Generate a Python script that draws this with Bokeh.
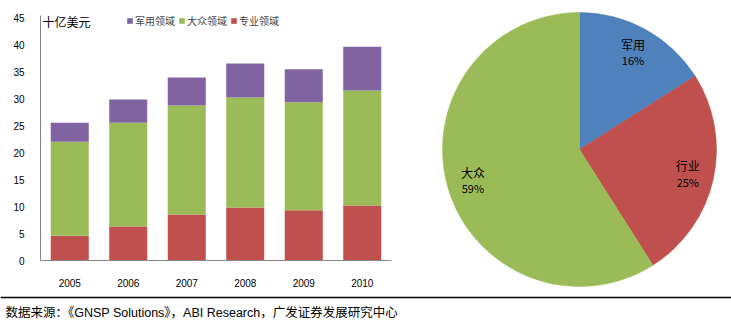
import math
from bokeh.plotting import figure
from bokeh.models import ColumnDataSource, Legend, LegendItem, Label, Span
from bokeh.layouts import column, row
from bokeh.core.properties import value
from bokeh.embed import file_html
from bokeh.resources import INLINE

# ---- data ----
years = ["2005", "2006", "2007", "2008", "2009", "2010"]
pro = [4.6, 6.3, 8.5, 9.8, 9.3, 10.2]        # 专业领域
mass = [17.4, 19.2, 20.2, 20.4, 20.0, 21.3]  # 大众领域
mil = [3.5, 4.3, 5.2, 6.3, 6.1, 8.1]         # 军用领域
series_names = ["专业领域", "大众领域", "军用领域"]
y_ticks = [0, 5, 10, 15, 20, 25, 30, 35, 40, 45]

pie_names = ["军用", "行业", "大众"]
pie_pct = [16, 25, 59]

unit_title = "十亿美元"
source_text = "数据来源：《GNSP Solutions》，ABI Research，广发证券发展研究中心"

C_RED = "#C0504D"
C_GREEN = "#9BBB59"
C_PURPLE = "#8064A2"
C_BLUE = "#4F81BD"
CJK = "Noto Sans CJK SC"
LAT = "Liberation Sans"

H = 290            # height of the top row
PX_PER_UNIT = 5.4  # vertical scale of the bar chart
BASE_PX = 30       # pixels below the zero line
TOP_PX = 17        # pixels above the 45 line

# ---- stacked bar chart ----
src = ColumnDataSource(dict(years=years, pro=pro, mass=mass, mil=mil))
bp = figure(x_range=years,
            y_range=(-BASE_PX / PX_PER_UNIT, 45 + TOP_PX / PX_PER_UNIT),
            width=400, height=H,
            output_backend="svg", toolbar_location=None,
            min_border_left=40, min_border_right=9, min_border_top=0,
            min_border_bottom=0)
r = bp.vbar_stack(["pro", "mass", "mil"], x="years", width=0.65, source=src,
                  color=[C_RED, C_GREEN, C_PURPLE], line_color=None)
bp.x_range.range_padding = 0
bp.xgrid.grid_line_color = None
bp.ygrid.grid_line_color = None
bp.outline_line_color = None
bp.yaxis.ticker = y_ticks
bp.yaxis.bounds = (0, 45.4)
bp.xaxis.fixed_location = 0
for ax in (bp.xaxis, bp.yaxis):
    ax.axis_line_color = "#868686"
    ax.major_tick_line_color = None
    ax.minor_tick_line_color = None
    ax.major_label_text_font = LAT
    ax.major_label_text_font_size = "10px"
    ax.major_label_text_color = "#000000"
bp.yaxis.major_label_standoff = 10
bp.xaxis.major_label_standoff = 12

legend = Legend(items=[LegendItem(label=series_names[2], renderers=[r[2]]),
                       LegendItem(label=series_names[1], renderers=[r[1]]),
                       LegendItem(label=series_names[0], renderers=[r[0]])],
                orientation="horizontal", location=(86, H - 28),
                glyph_width=7, glyph_height=7, label_standoff=2, spacing=3,
                padding=0, margin=0, label_height=14,
                label_text_font=CJK, label_text_font_size="10px",
                background_fill_alpha=0, border_line_color=None)
bp.add_layout(legend, "center")
bp.add_layout(Label(x=2, y=H - 21, x_units="screen", y_units="screen",
                    text=unit_title, text_font=CJK, text_font_size="12px",
                    text_baseline="middle", text_color="#000000"))

# ---- pie chart ----
total = sum(pie_pct)
starts, ends, lx, ly = [], [], [], []
R = 137
acc = 0
for v in pie_pct:
    a0 = math.pi / 2 - 2 * math.pi * acc / total
    acc += v
    a1 = math.pi / 2 - 2 * math.pi * acc / total
    starts.append(a0)
    ends.append(a1)
    mid = (a0 + a1) / 2
    lx.append(0.81 * R * math.cos(mid))
    ly.append(0.81 * R * math.sin(mid))
psrc = ColumnDataSource(dict(start=starts, end=ends, x=lx, y=ly,
                             name=pie_names,
                             pct=[f"{v}%" for v in pie_pct],
                             color=[C_BLUE, C_RED, C_GREEN]))
pp = figure(x_range=(-179, 152), y_range=(-141, 149), width=331, height=H,
            output_backend="svg", toolbar_location=None, min_border=0)
pp.wedge(x=0, y=0, radius=R, start_angle="start", end_angle="end",
         direction="clock", fill_color="color", line_color="color",
         line_width=0.5, source=psrc)
pp.text(x="x", y="y", text="name", source=psrc, text_font=value(CJK),
        text_font_size="12px", text_align="center", text_baseline="middle",
        y_offset=-8, text_color="#000000")
pp.text(x="x", y="y", text="pct", source=psrc, text_font=value(CJK),
        text_font_size="11px", text_align="center", text_baseline="middle",
        y_offset=8, text_color="#000000")
pp.axis.visible = False
pp.grid.visible = False
pp.outline_line_color = None

# ---- footer ----
fp = figure(x_range=(0, 731), y_range=(0, 34), width=731, height=34,
            output_backend="svg", toolbar_location=None, min_border=0)
fp.axis.visible = False
fp.grid.visible = False
fp.outline_line_color = None
fp.add_layout(Span(location=27, dimension="width", line_color="#000000",
                   line_width=1.5))
fp.add_layout(Label(x=5, y=12, text=source_text,
                    text_font="Liberation Sans, Noto Sans CJK SC",
                    text_font_size="12.5px", text_baseline="middle",
                    text_color="#000000"))

layout = column(row(bp, pp), fp)
open("out.html", "w").write(file_html(layout, INLINE))
